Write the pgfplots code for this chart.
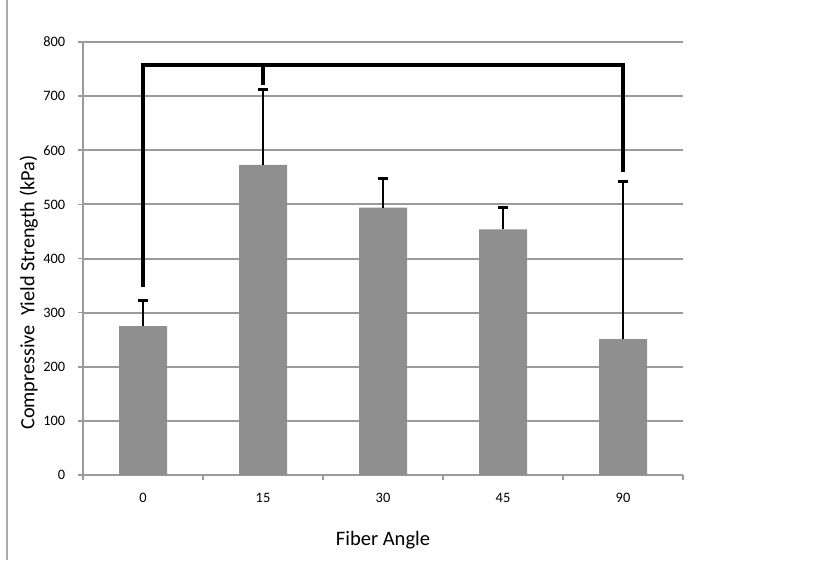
\documentclass[border=0pt]{standalone}
\usepackage{pgfplots}
\pgfplotsset{compat=1.18}
\usepackage{fontspec}
\setmainfont{Carlito}
\definecolor{barc}{RGB}{143,143,143}
\definecolor{gridc}{RGB}{155,155,155}
\definecolor{leftc}{RGB}{170,170,170}
\pgfplotstableread{
x y e
0 275 48
1 573 140
2 494 54
3 454 41
4 251 292
}\datatab
\begin{document}
\begin{tikzpicture}
\useasboundingbox (0,0) rectangle (615pt,421.5pt);
\draw[leftc, line width=1.6pt] (5.25pt,1.5pt) -- (5.25pt,421.5pt);
\begin{axis}[
  at={(62.25pt,65.25pt)}, anchor=south west,
  scale only axis, width=450pt, height=324.75pt,
  xmin=-0.5, xmax=4.5, ymin=0, ymax=800,
  axis x line*=bottom, axis y line*=left,
  axis line style={gridc, line width=1.5pt},
  ymajorgrids, grid style={gridc, line width=1.5pt},
  ytick={0,100,...,800},
  xtick={-0.5,0.5,1.5,2.5,3.5,4.5},
  x tick label as interval,
  xticklabels={0,15,30,45,90},
  tick align=outside,
  major tick length=3.75pt,
  tick style={gridc, line width=1.2pt},
  /pgf/number format/assume math mode=true,
  ticklabel style={font=\fontsize{10.8}{12}\selectfont, text=black},
  yticklabel style={xshift=-6pt},
  xticklabel style={yshift=-6pt, text height=7.5pt, text depth=0pt},
  clip=false,
]
\addplot[ybar, bar width=36pt, bar shift=0pt, fill=barc, draw=none,
  error bars/.cd, y dir=plus, y explicit,
  error bar style={black, line width=1.8pt},
  error mark options={black, rotate=90, line width=2.25pt, mark size=3.75pt}]
  table[x=x, y=y, y error=e] {\datatab};
\addplot[black, line width=3pt, line join=miter, mark=none] coordinates {(0,347) (0,757) (4,757) (4,560)};
\addplot[black, line width=3pt, mark=none] coordinates {(1,757) (1,720)};
\end{axis}
\node[rotate=90, font=\fontsize{15.2}{18}\selectfont] at (21.5pt,202pt) {Compressive\ \ Yield Strength (kPa)};
\node[font=\fontsize{15.4}{18}\selectfont] at (287.25pt,16.5pt) {Fiber Angle};
\end{tikzpicture}
\end{document}
